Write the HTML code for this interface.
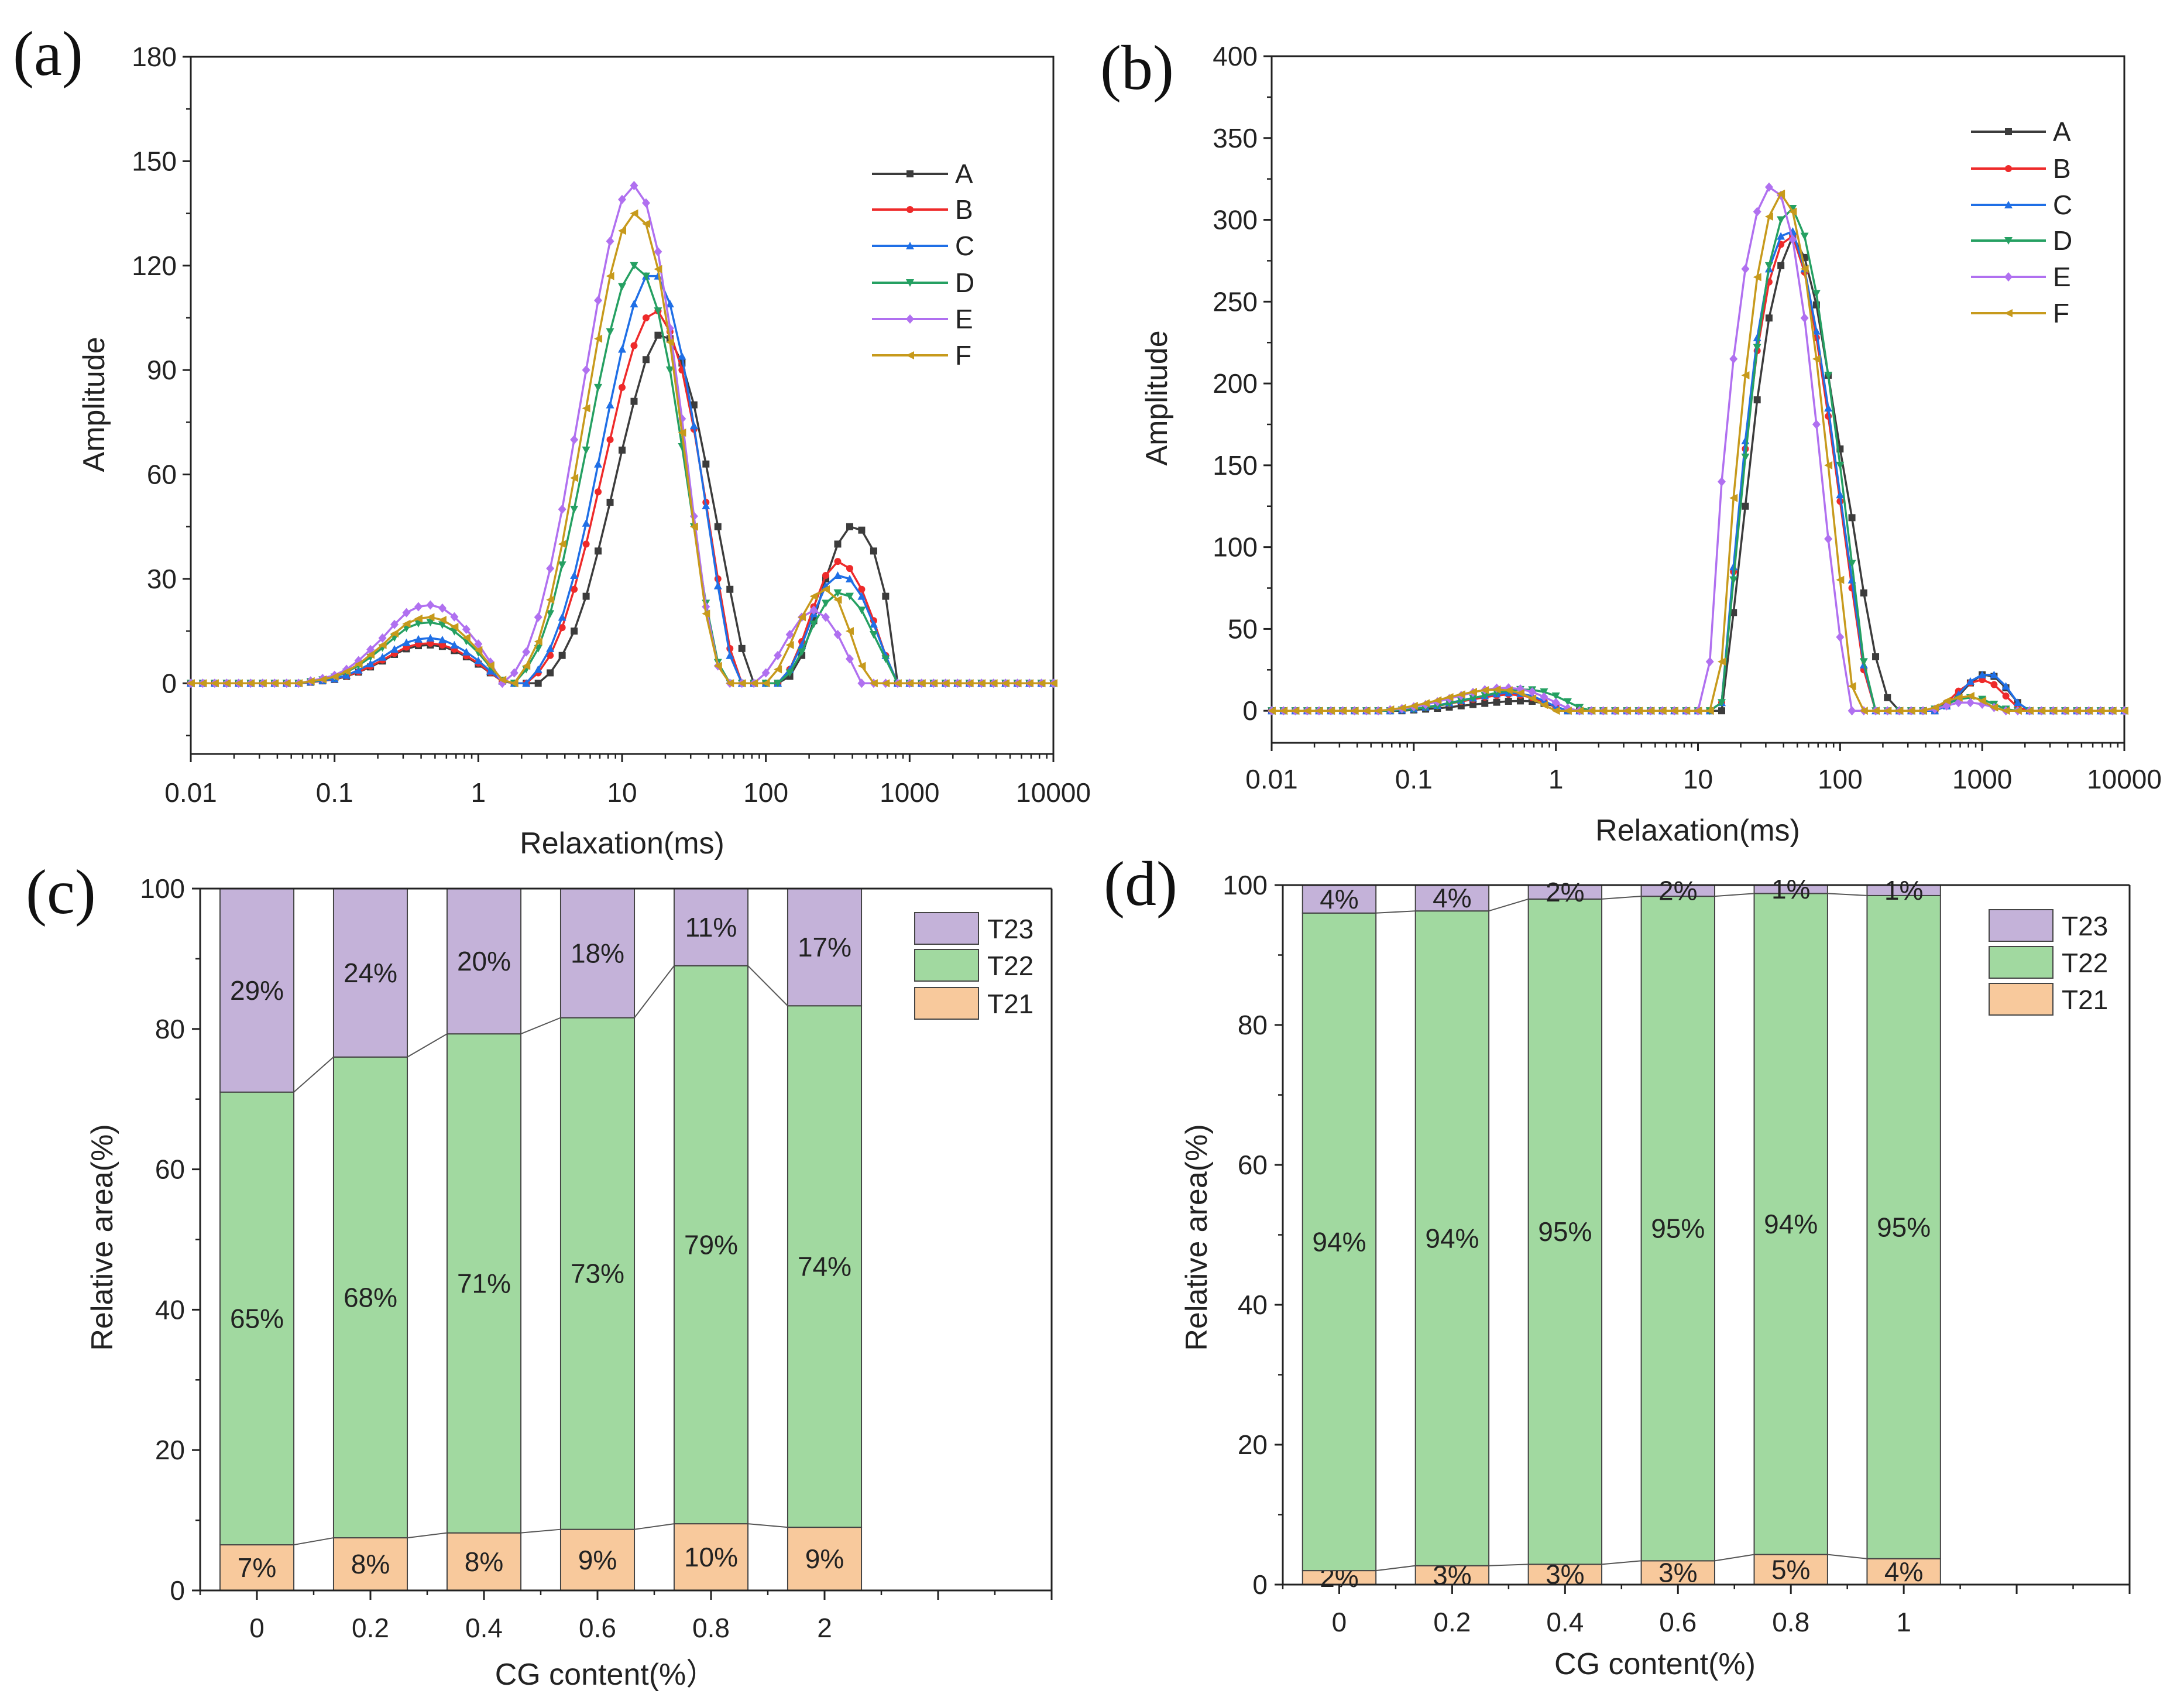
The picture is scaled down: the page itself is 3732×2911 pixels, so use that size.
<!DOCTYPE html>
<html><head><meta charset="utf-8">
<style>
html,body{margin:0;padding:0;background:#fff;}
svg{display:block;font-family:"Liberation Sans",Arial,sans-serif;}
</style></head>
<body>
<svg id="fig" width="3732" height="2911" viewBox="0 0 3732 2911" xmlns="http://www.w3.org/2000/svg">
<rect x="0" y="0" width="3732" height="2911" fill="#fff"/>
</svg>
<script>
// ---------- data (a) ----------
const xGridLog = []; // log10 positions built from index (grid definition, 12 per decade)
for (let i = 0; i <= 72; i++) xGridLog.push(-2 + i / 12);
const seriesNames = ["A","B","C","D","E","F"];
const aA = [0,0,0,0,0,0,0,0,0, 0,0.3,0.7,1.1,2,3.2,4.7,6.4,8.3,9.9,10.8,11,10.6,9.4,7.6,5.5,3,0.6,0, 0, 0,3,8,15,25,38,52,67,81,93,100,99,92,80,63,45,27,10,0, 0, 0,2,8,18,30,40,45,44,38,25,0, 0,0,0,0,0,0,0,0,0,0,0,0,0];
const aB = [0,0,0,0,0,0,0,0,0, 0,0.3,0.7,1.2,2.1,3.3,4.9,6.7,8.6,10.4,11.3,11.5,11,9.8,7.9,5.8,3.1,0.6,0, 0,3,8,16,27,40,55,70,85,97,105,107,101,90,73,52,30,10,0, 0,0, 0,4,12,22,31,35,33,27,18,8,0, 0,0,0,0,0,0,0,0,0,0,0,0,0];
const aC = [0,0,0,0,0,0,0,0,0, 0,0.4,0.8,1.3,2.3,3.8,5.6,7.5,9.8,11.7,12.7,13,12.5,11,9,6.5,3.5,0.7,0, 0,4,10,19,31,46,63,80,96,109,117,117,109,94,74,51,28,8,0, 0,0, 0,4,11,20,28,31,30,25,17,8,0, 0,0,0,0,0,0,0,0,0,0,0,0,0];
const aD = [0,0,0,0,0,0,0,0,0, 0,0.5,1,1.8,3.2,5.1,7.5,10.2,13.1,15.8,17.2,17.5,16.8,14.9,12.1,8.8,4.7,0.9, 0,4,10,20,34,50,67,85,101,114,120,117,107,90,68,45,23,6,0, 0,0,0, 0,3,9,17,23,26,25,21,14,7,0, 0,0,0,0,0,0,0,0,0,0,0,0,0];
const aE = [0,0,0,0,0,0,0,0,0, 0,0.7,1.4,2.3,4,6.5,9.7,13,16.9,20.3,22,22.5,21.6,19.1,15.5,11.3,6.1, 0,3,9,19,33,50,70,90,110,127,139,143,138,124,102,76,48,22,5,0, 0, 0,3,8,14,19,21,19,14,7,0, 0,0,0,0,0,0,0,0,0,0,0,0,0,0,0,0];
const aF = [0,0,0,0,0,0,0,0,0, 0,0.6,1.1,1.9,3.4,5.5,8.2,11,14.3,17.1,18.6,19,18.2,16.2,13.1,9.5,5.1,1, 0,5,12,24,40,59,79,99,117,130,135,132,119,98,72,45,20,5,0, 0,0, 0,4,11,19,25,27,24,15,5,0, 0,0,0,0,0,0,0,0,0,0,0,0,0,0,0];
// ---------- data (b) ----------
const bA = [0,0,0,0,0,0,0,0,0,0,0, 0,0.5,1,1.5,2.2,3,3.8,4.5,5.2,5.8,6,5.8,4.5,2.5,0, 0,0,0,0,0,0,0,0,0,0,0,0, 0,60,125,190,240,272,290,277,248,205,160,118,72,33,8,0, 0,0, 0,3,9,17,22,21,14,5,0, 0,0,0,0,0,0,0,0];
const bB = [0,0,0,0,0,0,0,0,0,0, 0,0.5,1,2,3,4.3,5.7,7,8.3,9.3,10,9.5,8,5.5,2.5,0, 0,0,0,0,0,0,0,0,0,0,0,0, 5,85,160,220,262,285,290,268,228,180,128,75,25,0, 0,0,0,0, 0,5,12,17,19,16,9,2,0, 0,0,0,0,0,0,0,0];
const bC = [0,0,0,0,0,0,0,0,0,0, 0,0.5,1.1,2.2,3.3,4.8,6.3,7.8,9.2,10.3,11,10.5,9,6,2.5,0, 0,0,0,0,0,0,0,0,0,0,0,0, 5,88,165,228,270,290,293,270,232,185,132,80,28,0, 0,0,0,0, 0,3,10,18,22,22,15,5,0, 0,0,0,0,0,0,0,0];
const bD = [0,0,0,0,0,0,0,0,0,0, 0,0.5,1,2,3,4.5,6,7.7,9.3,11,12.3,13,12.8,11.5,9,5.5,2,0, 0,0,0,0,0,0,0,0,0,0, 5,80,155,222,272,300,307,290,255,205,150,90,30,0, 0,0,0, 0,1,4,7,8,7,4,1,0, 0,0,0,0,0,0,0,0,0];
const bE = [0,0,0,0,0,0,0,0,0, 0,0.6,1.3,2.4,3.8,5.5,7.4,9.3,11.2,12.8,13.8,14,13.3,11.5,8.5,5,1.5,0, 0,0,0,0,0,0,0,0,0,0, 30,140,215,270,305,320,315,288,240,175,105,45,0, 0,0,0,0,0, 0,1,3,5,5,4,2,0, 0,0,0,0,0,0,0,0,0,0];
const bF = [0,0,0,0,0,0,0,0,0, 0,0.8,1.7,3,4.6,6.4,8.3,10,11.5,12.6,13,12.5,10.8,7.5,3.5,0, 0,0,0,0,0,0,0,0,0,0,0,0,0, 30,130,205,265,302,316,305,270,215,150,80,15,0, 0,0,0,0, 0,2,6,8,9,6,2,0, 0,0,0,0,0,0,0,0,0,0];
const xTickLabels = ["0.01","0.1","1","10","100","1000","10000"];
const aYTicks = [0,30,60,90,120,150,180];
const bYTicks = [0,50,100,150,200,250,300,350,400];
// ---------- data (c),(d) ----------
const cCats = ["0","0.2","0.4","0.6","0.8","2"];
const cT21 = [6.5,7.5,8.2,8.7,9.5,9.0];
const cT22 = [64.5,68.5,71.1,72.9,79.5,74.3];
const cT23 = [29,24,20.7,18.4,11,16.7];
const cL21 = ["7%","8%","8%","9%","10%","9%"];
const cL22 = ["65%","68%","71%","73%","79%","74%"];
const cL23 = ["29%","24%","20%","18%","11%","17%"];
const dCats = ["0","0.2","0.4","0.6","0.8","1"];
const dT21 = [2.0,2.7,2.9,3.4,4.3,3.7];
const dT22 = [94.0,93.6,95.1,95.0,94.5,94.8];
const dT23 = [4.0,3.7,2.0,1.6,1.2,1.5];
const dL21 = ["2%","3%","3%","3%","5%","4%"];
const dL22 = ["94%","94%","95%","95%","94%","95%"];
const dL23 = ["4%","4%","2%","2%","1%","1%"];
const barYTicks = [0,20,40,60,80,100];

const NS = "http://www.w3.org/2000/svg";
const svg = document.getElementById("fig");
function mk(tag, attrs, parent, text) {
  const e = document.createElementNS(NS, tag);
  for (const k in attrs) e.setAttribute(k, attrs[k]);
  if (text !== undefined) e.textContent = text;
  (parent || svg).appendChild(e);
  return e;
}
const colors = {A:"#3c3c3c",B:"#ee2a2a",C:"#1f6fe6",D:"#25a062",E:"#b070f0",F:"#c79a1c"};

function marker(g, shape, x, y, c) {
  const s = 6;
  let el;
  if (shape === "A") el = mk("rect",{x:x-s,y:y-s,width:2*s,height:2*s,fill:c},g);
  else if (shape === "B") el = mk("circle",{cx:x,cy:y,r:s,fill:c},g);
  else if (shape === "C") el = mk("polygon",{points:`${x},${y-s-1} ${x-s-1},${y+s} ${x+s+1},${y+s}`,fill:c},g);
  else if (shape === "D") el = mk("polygon",{points:`${x},${y+s+1} ${x-s-1},${y-s} ${x+s+1},${y-s}`,fill:c},g);
  else if (shape === "E") el = mk("polygon",{points:`${x},${y-s-2} ${x+s+1},${y} ${x},${y+s+2} ${x-s-1},${y}`,fill:c},g);
  else el = mk("polygon",{points:`${x-s-1},${y} ${x+s+1},${y-s-1} ${x+s+1},${y+s+1}`,fill:c},g);
  
  
}

function linePanel(P) {
  const g = mk("g", {}, svg);
  
  
  const X = lv => P.L + (lv + 2) / 6 * (P.R - P.L);
  const Y = v => P.B - (v - P.ymin) / (P.ymax - P.ymin) * (P.B - P.T);
  // frame
  const fr = mk("rect",{x:P.L,y:P.T,width:P.R-P.L,height:P.B-P.T,fill:"none",stroke:"#222","stroke-width":3},g);
  
  
  // y ticks
  P.yTicks.forEach((t, k) => {
    const y = Y(t);
    mk("line",{x1:P.L-14,x2:P.L,y1:y,y2:y,stroke:"#222","stroke-width":3},g);
    const tl = mk("text",{x:P.L-24,y:y+16,"text-anchor":"end","font-size":46,fill:"#222"},g,String(t));
    
    
    if (k < P.yTicks.length - 1) {
      const ym = Y(t + P.ystep / 2);
      mk("line",{x1:P.L-8,x2:P.L,y1:ym,y2:ym,stroke:"#222","stroke-width":2.5},g);
    }
  });
  const ymB = Y(P.yTicks[0] - P.ystep / 2);
  if (ymB < P.B) mk("line",{x1:P.L-8,x2:P.L,y1:ymB,y2:ymB,stroke:"#222","stroke-width":2.5},g);
  // x ticks
  for (let d = -2; d <= 4; d++) {
    const x = X(d);
    mk("line",{x1:x,x2:x,y1:P.B,y2:P.B+14,stroke:"#222","stroke-width":3},g);
    const tl = mk("text",{x:x,y:P.B+P.xlabDy,"text-anchor":"middle","font-size":46,fill:"#222"},g,xTickLabels[d+2]);
    
    
    if (d < 4) for (let m = 2; m <= 9; m++) {
      const xm = X(d + Math.log10(m));
      mk("line",{x1:xm,x2:xm,y1:P.B,y2:P.B+8,stroke:"#222","stroke-width":2.5},g);
    }
  }
  // series
  P.series.forEach((vals, si) => {
    const nm = seriesNames[si];
    const sg = mk("g",{},g);
    
    
    const pts = vals.map((v, i) => `${X(xGridLog[i]).toFixed(1)},${Y(v).toFixed(1)}`).join(" ");
    mk("polyline",{points:pts,fill:"none",stroke:colors[nm],"stroke-width":3.5},sg);
    vals.forEach((v, i) => marker(sg, nm, X(xGridLog[i]), Y(v), colors[nm]));
  });
  // legend
  const lg = mk("g",{},g);
  
  
  seriesNames.forEach((nm, k) => {
    const y = P.legY[k];
    const eg = mk("g",{},lg);
    
    
    mk("line",{x1:P.legX1,x2:P.legX2,y1:y,y2:y,stroke:colors[nm],"stroke-width":4},eg);
    marker(eg, nm, (P.legX1 + P.legX2) / 2, y, colors[nm]);
    mk("text",{x:P.legX2+12,y:y+16,"font-size":46,fill:"#222"},eg,nm);
  });
  // titles
  const xt = mk("text",{x:P.xtX,y:P.xtY,"text-anchor":"middle","font-size":52,fill:"#222"},g,"Relaxation(ms)");
  
  
  const yt = mk("text",{x:0,y:0,"text-anchor":"middle","font-size":52,fill:"#222",transform:`translate(${P.ytX},${P.ytY}) rotate(-90)`},g,"Amplitude");
  
  
  const pl = mk("text",{x:P.plX,y:P.plY,"font-family":"Liberation Serif, serif","font-size":108,fill:"#111"},g,P.letter);
  
  
}

linePanel({name:"panel-a",L:326,R:1800,T:97,B:1288,ymin:-20.3,ymax:180,ystep:30,yTicks:aYTicks,
  series:[aA,aB,aC,aD,aE,aF],xlabDy:82,legX1:1490,legX2:1620,legY:[297,358,420,483,545,607],
  xtX:1063,xtY:1458,ytX:178,ytY:691,plX:22,plY:128,letter:"(a)"});
linePanel({name:"panel-b",L:2173,R:3630,T:96,B:1269,ymin:-19.6,ymax:400,ystep:50,yTicks:bYTicks,
  series:[bA,bB,bC,bD,bE,bF],xlabDy:78,legX1:3368,legX2:3496,legY:[225,288,350,411,473,535],
  xtX:2901,xtY:1436,ytX:1994,ytY:680,plX:1880,plY:152,letter:"(b)"});

function barPanel(P) {
  const g = mk("g", {}, svg);
  
  
  const X = idx => P.L + (idx + 0.5) / 7.5 * (P.R - P.L);
  const Y = v => P.B - v / 100 * (P.B - P.T);
  const bw = 0.65 * (P.R - P.L) / 7.5;
  const cols = {T21:"#f8c99c",T22:"#a1d9a0",T23:"#c4b2d9"};
  const tops21 = [], tops22 = [];
  P.cats.forEach((c, i) => {
    const x0 = X(i) - bw / 2;
    const v1 = P.t21[i], v2 = P.t21[i] + P.t22[i], v3 = 100;
    tops21.push(v1); tops22.push(v2);
    const segs = [["T21",0,v1,P.l21[i]],["T22",v1,v2,P.l22[i]],["T23",v2,v3,P.l23[i]]];
    segs.forEach(s => {
      const r = mk("rect",{x:x0,y:Y(s[2]),width:bw,height:Y(s[1])-Y(s[2]),fill:cols[s[0]],stroke:"#444","stroke-width":2},g);
      
      
      const ty = (Y(s[1]) + Y(s[2])) / 2 + 16;
      const t = mk("text",{x:X(i),y:ty,"text-anchor":"middle","font-size":46,fill:"#222"},g,s[3]);
      
      
    });
  });
  // connectors
  [tops21, tops22].forEach(arr => {
    for (let i = 0; i < arr.length - 1; i++) {
      mk("line",{x1:X(i)+bw/2,y1:Y(arr[i]),x2:X(i+1)-bw/2,y2:Y(arr[i+1]),stroke:"#555","stroke-width":2},g);
    }
  });
  // axes
  mk("line",{x1:P.L,x2:P.R,y1:P.T,y2:P.T,stroke:"#222","stroke-width":3},g);
  mk("line",{x1:P.R,x2:P.R,y1:P.T,y2:P.B,stroke:"#222","stroke-width":3},g);
  const ya = mk("line",{x1:P.L,x2:P.L,y1:P.T,y2:P.B,stroke:"#222","stroke-width":3},g);
  
  
  const xa = mk("line",{x1:P.L,x2:P.R,y1:P.B,y2:P.B,stroke:"#222","stroke-width":3},g);
  
  
  barYTicks.forEach((t, k) => {
    const y = Y(t);
    mk("line",{x1:P.L-14,x2:P.L,y1:y,y2:y,stroke:"#222","stroke-width":3},g);
    const tl = mk("text",{x:P.L-26,y:y+16,"text-anchor":"end","font-size":46,fill:"#222"},g,String(t));
    
    
    if (k < barYTicks.length - 1) { const ym = Y(t + 10); mk("line",{x1:P.L-8,x2:P.L,y1:ym,y2:ym,stroke:"#222","stroke-width":2.5},g); }
  });
  for (let i = 0; i <= 7; i++) {
    const x = X(i);
    mk("line",{x1:x,x2:x,y1:P.B,y2:P.B+16,stroke:"#222","stroke-width":3},g);
    const xm = X(i - 0.5);
    mk("line",{x1:xm,x2:xm,y1:P.B,y2:P.B+8,stroke:"#222","stroke-width":2.5},g);
    if (i < P.cats.length) {
      const tl = mk("text",{x:x,y:P.B+P.xlabDy,"text-anchor":"middle","font-size":46,fill:"#222"},g,P.cats[i]);
      
      
    }
  }
  // legend
  const lg = mk("g",{},g);
  
  
  [["T23",P.legY[0]],["T22",P.legY[1]],["T21",P.legY[2]]].forEach(e => {
    const eg = mk("g",{},lg);
    
    
    mk("rect",{x:P.legX,y:e[1],width:109,height:54,fill:cols[e[0]],stroke:"#444","stroke-width":2},eg);
    mk("text",{x:P.legX+124,y:e[1]+44,"font-size":46,fill:"#222"},eg,e[0]);
  });
  const xt = mk("text",{x:P.xtX,y:P.xtY,"text-anchor":"middle","font-size":52,fill:"#222"},g,P.xTitle);
  
  
  const yt = mk("text",{x:0,y:0,"text-anchor":"middle","font-size":52,fill:"#222",transform:`translate(${P.ytX},${P.ytY}) rotate(-90)`},g,"Relative area(%)");
  
  
  const pl = mk("text",{x:P.plX,y:P.plY,"font-family":"Liberation Serif, serif","font-size":108,fill:"#111"},g,P.letter);
  
  
}

barPanel({name:"panel-c",L:342,R:1797,T:1518,B:2717,cats:cCats,t21:cT21,t22:cT22,t23:cT23,l21:cL21,l22:cL22,l23:cL23,
  xlabDy:80,legX:1563,legY:[1559,1622,1687],xtX:1035,xtY:2878,xTitle:"CG content(%）",ytX:192,ytY:2114,plX:44,plY:1560,letter:"(c)"});
barPanel({name:"panel-d",L:2192,R:3639,T:1512,B:2707,cats:dCats,t21:dT21,t22:dT22,t23:dT23,l21:dL21,l22:dL22,l23:dL23,
  xlabDy:80,legX:3399,legY:[1554,1617,1680],xtX:2828,xtY:2860,xTitle:"CG content(%)",ytX:2062,ytY:2114,plX:1886,plY:1546,letter:"(d)"});
</script>
</body></html>
